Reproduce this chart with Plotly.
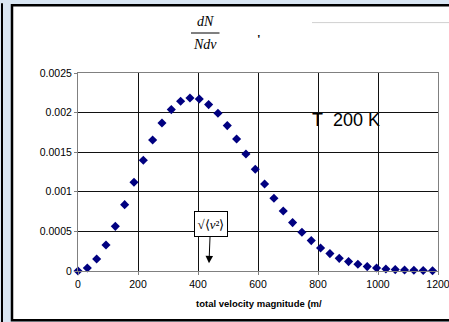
import plotly.graph_objects as go

velocity = [0, 31.1, 62.2, 93.3, 124.4, 155.5, 186.6, 217.7, 248.8, 279.9, 311.0, 342.1,
            373.2, 404.3, 435.4, 466.5, 497.6, 528.7, 559.8, 590.9, 622.0, 653.1, 684.2,
            715.3, 746.4, 777.5, 808.6, 839.7, 870.8, 901.9, 933.0, 964.1, 995.2, 1026.3,
            1057.4, 1088.5, 1119.6, 1150.7, 1181.8]
fraction = [0, 0.000038, 0.000152, 0.000328, 0.000564, 0.000838, 0.00112, 0.001398,
            0.001654, 0.001869, 0.002038, 0.002143, 0.002184, 0.002172, 0.002101, 0.001991,
            0.001836, 0.001667, 0.001477, 0.001284, 0.001098, 0.000918, 0.000758, 0.000611,
            0.000489, 0.000384, 0.00029, 0.00022, 0.00016, 0.000119, 0.0000846, 0.0000556,
            0.0000379, 0.0000253, 0.0000177, 0.000013, 0.000009, 0.000006, 0.000004]
x_ticks = [0, 200, 400, 600, 800, 1000, 1200]
x_tick_text = ["0", "200", "400", "600", "800", "1000", "1200"]
y_ticks = [0, 0.0005, 0.001, 0.0015, 0.002, 0.0025]
y_tick_text = ["0", "0.0005", "0.001", "0.0015", "0.002", "0.0025"]
temp_label = "T\u00a0\u00a0200 K"
x_title = "total velocity magnitude (m/"

W, H = 449, 322
L, R, T, B = 78, 438, 72.7, 270.7


def xp(px):
    return (px - L) / (R - L)


def yp(py):
    return (B - py) / (B - T)


FONT = "Liberation Sans, Arial, sans-serif"
SERIF = "Liberation Serif, Times New Roman, serif"

fig = go.Figure()
fig.add_trace(go.Scatter(
    x=velocity, y=fraction, mode="markers",
    marker=dict(symbol="diamond", size=7, color="#000080", line=dict(width=0)),
    cliponaxis=False, showlegend=False, hoverinfo="skip"))

shapes = [
    dict(type="rect", xref="paper", yref="paper", x0=xp(12), x1=xp(460), y0=yp(5), y1=yp(320),
         fillcolor="white", line=dict(color="black", width=2.5), layer="below"),
    dict(type="line", xref="paper", yref="paper", x0=xp(2), x1=xp(2), y0=yp(3), y1=yp(330),
         line=dict(color="black", width=2)),
    dict(type="line", xref="paper", yref="paper", x0=xp(312), x1=xp(455), y0=yp(22.3), y1=yp(22.3),
         line=dict(color="#d0d0d0", width=1)),
    dict(type="line", xref="paper", yref="paper", x0=xp(191), x1=xp(219.5), y0=yp(32.7), y1=yp(32.7),
         line=dict(color="black", width=1)),
]

annotations = [
    dict(xref="paper", yref="paper", x=xp(205), y=yp(21.5), text="<i>dN</i>", showarrow=False,
         font=dict(family=SERIF, size=14, color="black"), xanchor="center", yanchor="middle"),
    dict(xref="paper", yref="paper", x=xp(205), y=yp(44), text="<i>Ndv</i>", showarrow=False,
         font=dict(family=SERIF, size=14, color="black"), xanchor="center", yanchor="middle"),
    dict(xref="paper", yref="paper", x=xp(258.5), y=yp(38), text="<b>'</b>", showarrow=False,
         font=dict(family=SERIF, size=13, color="black"), xanchor="center", yanchor="middle"),
    dict(xref="paper", yref="paper", x=xp(346), y=yp(120), text=temp_label, showarrow=False,
         font=dict(family=FONT, size=18, color="black"), xanchor="center", yanchor="middle"),
    dict(xref="paper", yref="paper", x=xp(259), y=yp(303.5), text="<b>" + x_title + "</b>",
         showarrow=False, font=dict(family=FONT, size=9.5, color="black"),
         xanchor="center", yanchor="middle"),
    dict(xref="paper", yref="paper", x=xp(209), y=yp(263),
         text="\u221a\u27e8<i>v</i>\u00b2\u27e9", showarrow=True,
         axref="pixel", ayref="pixel", ax=1.5, ay=-39,
         arrowhead=2, arrowsize=1.5, arrowwidth=1, arrowcolor="black",
         font=dict(family=SERIF, size=13, color="black"),
         width=30, height=22,
         bgcolor="white", bordercolor="black", borderwidth=1, borderpad=1),
]

fig.update_layout(
    width=W, height=H, autosize=False,
    margin=dict(l=L, r=W - R, t=T, b=H - B, pad=0, autoexpand=False),
    paper_bgcolor="#d9e6f3", plot_bgcolor="white",
    font=dict(family=FONT, size=10.5, color="black"),
    shapes=shapes, annotations=annotations, showlegend=False,
    xaxis=dict(range=[0, 1200], tickvals=x_ticks, ticktext=x_tick_text,
               showgrid=True, gridcolor="#111111", gridwidth=1,
               showline=True, linecolor="#808080", linewidth=1, mirror=True,
               ticks="outside", ticklen=3, tickcolor="#808080",
               ticklabeloverflow="allow", automargin=False,
               zeroline=False, fixedrange=True),
    yaxis=dict(range=[0, 0.0025], tickvals=y_ticks, ticktext=y_tick_text,
               showgrid=True, gridcolor="#111111", gridwidth=1,
               showline=True, linecolor="#808080", linewidth=1, mirror=True,
               ticks="outside", ticklen=3, tickcolor="#808080",
               automargin=False,
               zeroline=False, fixedrange=True),
)

fig.write_html(
    "out.html",
    config={"displayModeBar": False},
    post_script="document.body.style.margin='0';document.body.style.overflow='hidden';",
)
